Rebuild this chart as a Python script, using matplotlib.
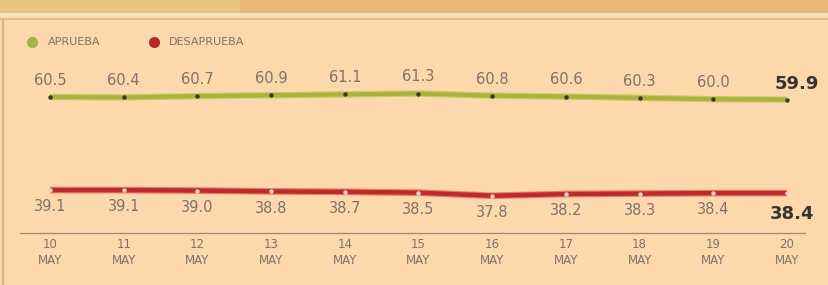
import matplotlib
matplotlib.use("Agg")
import matplotlib.pyplot as plt
from matplotlib.patches import Rectangle
from matplotlib.lines import Line2D
from matplotlib.transforms import blended_transform_factory

days = ["10", "11", "12", "13", "14", "15", "16", "17", "18", "19", "20"]
month = "MAY"
aprueba = [60.5, 60.4, 60.7, 60.9, 61.1, 61.3, 60.8, 60.6, 60.3, 60.0, 59.9]
desaprueba = [39.1, 39.1, 39.0, 38.8, 38.7, 38.5, 37.8, 38.2, 38.3, 38.4, 38.4]
series_names = ["APRUEBA", "DESAPRUEBA"]

BG = "#fdd8ac"
GREEN = "#a9b43c"
GREEN_EDGE = "#c9cc6a"
RED = "#bf2a2a"
RED_EDGE = "#e57c70"
TXT = "#7f726a"

W, H = 829, 285
fig = plt.figure(figsize=(W / 100, H / 100), dpi=100)
fig.patch.set_facecolor(BG)
ax = fig.add_axes([0, 0, 1, 1])
ax.set_facecolor(BG)
ax.axis("off")

# map data to pixel layout
px_per_x = (787 - 50) / 10
ax.set_xlim(-50 / px_per_x, 10 + (W - 787) / px_per_x)
px_per_v = 4.35
ax.set_ylim(60.5 - (H - 97) / px_per_v, 60.5 + 97 / px_per_v)

x = list(range(len(days)))

# header band
fig.patches.append(Rectangle((0, 1 - 13 / H), 1, 13 / H, transform=fig.transFigure,
                             facecolor="#e8b878", edgecolor="none"))
fig.patches.append(Rectangle((0, 1 - 13 / H), 240 / W, 13 / H, transform=fig.transFigure,
                             facecolor="#e9c483", edgecolor="none"))
fig.patches.append(Rectangle((0, 1 - 17 / H), 1, 4 / H, transform=fig.transFigure,
                             facecolor="#f7e0bc", edgecolor="none"))
fig.lines.append(Line2D([0, 1], [1 - 18.5 / H] * 2, transform=fig.transFigure,
                        color="#d9b78a", lw=1.2))
# left border
fig.lines.append(Line2D([3.5 / W] * 2, [0, 1 - 19 / H], transform=fig.transFigure,
                        color="#d8b48c", lw=1.5))

# lines
ax.plot(x, aprueba, color=GREEN_EDGE, lw=4.6, solid_capstyle="butt", zorder=2)
ax.plot(x, aprueba, color=GREEN, lw=3.0, solid_capstyle="butt", zorder=3)
ax.plot(x, aprueba, ls="none", marker="o", ms=2.2, color="#3a3a20", zorder=4)

ax.plot(x, desaprueba, color=RED_EDGE, lw=4.8, solid_capstyle="butt", zorder=2)
ax.plot(x, desaprueba, color=RED, lw=3.2, solid_capstyle="butt", zorder=3)
ax.plot(x, desaprueba, ls="none", marker="o", ms=2.2, color="#f4d0c0", zorder=4)

# value labels
for i, (a, d) in enumerate(zip(aprueba, desaprueba)):
    last = i == len(days) - 1
    if last:
        ax.annotate(f"{a:.1f}", (i, a), xytext=(7, 11.5), textcoords="offset points",
                    ha="center", va="center", fontsize=13, fontweight="bold", color="#3a322e")
        ax.annotate(f"{d:.1f}", (i, d), xytext=(4, -15), textcoords="offset points",
                    ha="center", va="center", fontsize=13, fontweight="bold", color="#3a322e")
    else:
        ax.annotate(f"{a:.1f}", (i, a), xytext=(0, 12), textcoords="offset points",
                    ha="center", va="center", fontsize=10.5, color=TXT)
        ax.annotate(f"{d:.1f}", (i, d), xytext=(0, -12), textcoords="offset points",
                    ha="center", va="center", fontsize=10.5, color=TXT)

# separator and date labels
trans = blended_transform_factory(ax.transData, ax.transAxes)
ax.plot([-30 / px_per_x, 10 + 18 / px_per_x], [1 - 233 / H] * 2, transform=trans,
        color="#9a8a7c", lw=0.9)
for i, dd in enumerate(days):
    ax.text(i, 1 - 245 / H, dd, transform=trans, ha="center", va="center",
            fontsize=8.5, color=TXT)
    ax.text(i, 1 - 260 / H, month, transform=trans, ha="center", va="center",
            fontsize=8.5, color=TXT)

# legend
ax.plot([32 / W], [1 - 42 / H], transform=fig.transFigure, marker="o", ms=7,
        color="#a8b050", ls="none")
ax.text(48 / W, 1 - 42 / H, series_names[0], transform=fig.transFigure,
        ha="left", va="center", fontsize=8, color=TXT)
ax.plot([154 / W], [1 - 42 / H], transform=fig.transFigure, marker="o", ms=7,
        color="#b8282a", ls="none")
ax.text(169 / W, 1 - 42 / H, series_names[1], transform=fig.transFigure,
        ha="left", va="center", fontsize=8, color=TXT)

fig.savefig("out.png", dpi=100, facecolor=BG)
